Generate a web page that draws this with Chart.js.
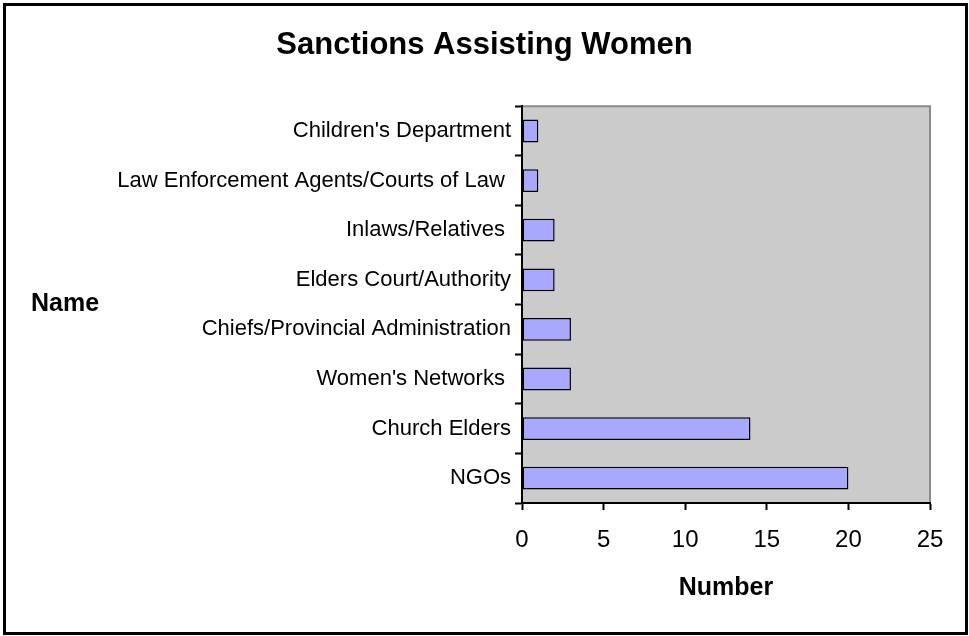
<!DOCTYPE html>
<html>
<head>
<meta charset="utf-8">
<script src="https://cdn.jsdelivr.net/npm/chart.js@4.4.0/dist/chart.umd.min.js"></script>
<style>
  html, body { margin: 0; padding: 0; background: #fff; }
  #wrap { width: 969px; height: 636px; }
</style>
</head>
<body>
<div id="wrap"><canvas id="sanctionsChart" width="969" height="636"></canvas></div>
<script>
// categories, listed top to bottom
const categories = [
  "Children's Department",
  "Law Enforcement Agents/Courts of Law ",
  "Inlaws/Relatives ",
  "Elders Court/Authority",
  "Chiefs/Provincial Administration",
  "Women's Networks ",
  "Church Elders",
  "NGOs",
];
const counts = [1, 1, 2, 2, 3, 3, 14, 20];
const xTicks = [0, 5, 10, 15, 20, 25];

const FONT = "Arial, 'Liberation Sans', sans-serif";

// grey plot area, frame around the whole figure, and the "Name" label
const framePlugin = {
  id: "frame",
  beforeDraw(chart) {
    const { ctx, chartArea: a } = chart;
    ctx.save();
    ctx.fillStyle = "#fff";
    ctx.fillRect(0, 0, chart.width, chart.height);
    ctx.fillStyle = "#cbcbcb";
    ctx.fillRect(a.left, a.top, a.right - a.left, a.bottom - a.top);
    ctx.strokeStyle = "#8a8a8a";
    ctx.lineWidth = 2;
    ctx.beginPath();
    ctx.moveTo(a.left, a.top);
    ctx.lineTo(a.right, a.top);
    ctx.lineTo(a.right, a.bottom);
    ctx.stroke();
    ctx.restore();
  },
  afterDraw(chart) {
    const { ctx, chartArea: a } = chart;
    ctx.save();
    ctx.strokeStyle = "#000";
    ctx.lineWidth = 3;
    ctx.strokeRect(4.5, 4.5, chart.width - 7, chart.height - 7);
    ctx.fillStyle = "#000";
    ctx.font = "bold 25px " + FONT;
    ctx.textAlign = "left";
    ctx.textBaseline = "middle";
    ctx.fillText("Name", 31, (a.top + a.bottom) / 2);
    ctx.restore();
  },
};

const ctx = document.getElementById("sanctionsChart").getContext("2d");
new Chart(ctx, {
  type: "bar",
  data: {
    labels: categories,
    datasets: [
      {
        data: counts,
        backgroundColor: "#a8a8ff",
        borderColor: "#000",
        borderWidth: 1.5,
        borderSkipped: false,
        barPercentage: 0.46,
        categoryPercentage: 1,
      },
    ],
  },
  options: {
    indexAxis: "y",
    responsive: false,
    animation: false,
    layout: { padding: { top: 0, right: 39, bottom: 0, left: 39 } },
    plugins: {
      legend: { display: false },
      tooltip: { enabled: false },
      title: {
        display: true,
        text: "Sanctions Assisting Women",
        color: "#000",
        font: { family: FONT, size: 31, weight: "bold" },
        padding: { top: 27, bottom: 42 },
      },
    },
    scales: {
      x: {
        min: 0,
        max: 25,
        afterBuildTicks(scale) {
          scale.ticks = xTicks.map((v) => ({ value: v }));
        },
        afterFit(scale) {
          scale.height = 133;
        },
        grid: {
          drawOnChartArea: false,
          drawTicks: true,
          tickLength: 7,
          tickWidth: 2,
          tickColor: "#000",
        },
        border: { color: "#000", width: 2 },
        ticks: {
          color: "#000",
          padding: 16,
          font: { family: FONT, size: 24 },
        },
        title: {
          display: true,
          text: "Number",
          color: "#000",
          font: { family: FONT, size: 25, weight: "bold" },
          padding: { top: 0, bottom: 33 },
        },
      },
      y: {
        afterFit(scale) {
          scale.width = 483;
        },
        grid: {
          offset: true,
          drawOnChartArea: false,
          drawTicks: true,
          tickLength: 7,
          tickWidth: 2,
          tickColor: "#000",
        },
        border: { color: "#000", width: 2 },
        ticks: {
          color: "#000",
          padding: 4,
          font: { family: FONT, size: 22 },
        },
      },
    },
  },
  plugins: [framePlugin],
});
</script>
</body>
</html>
